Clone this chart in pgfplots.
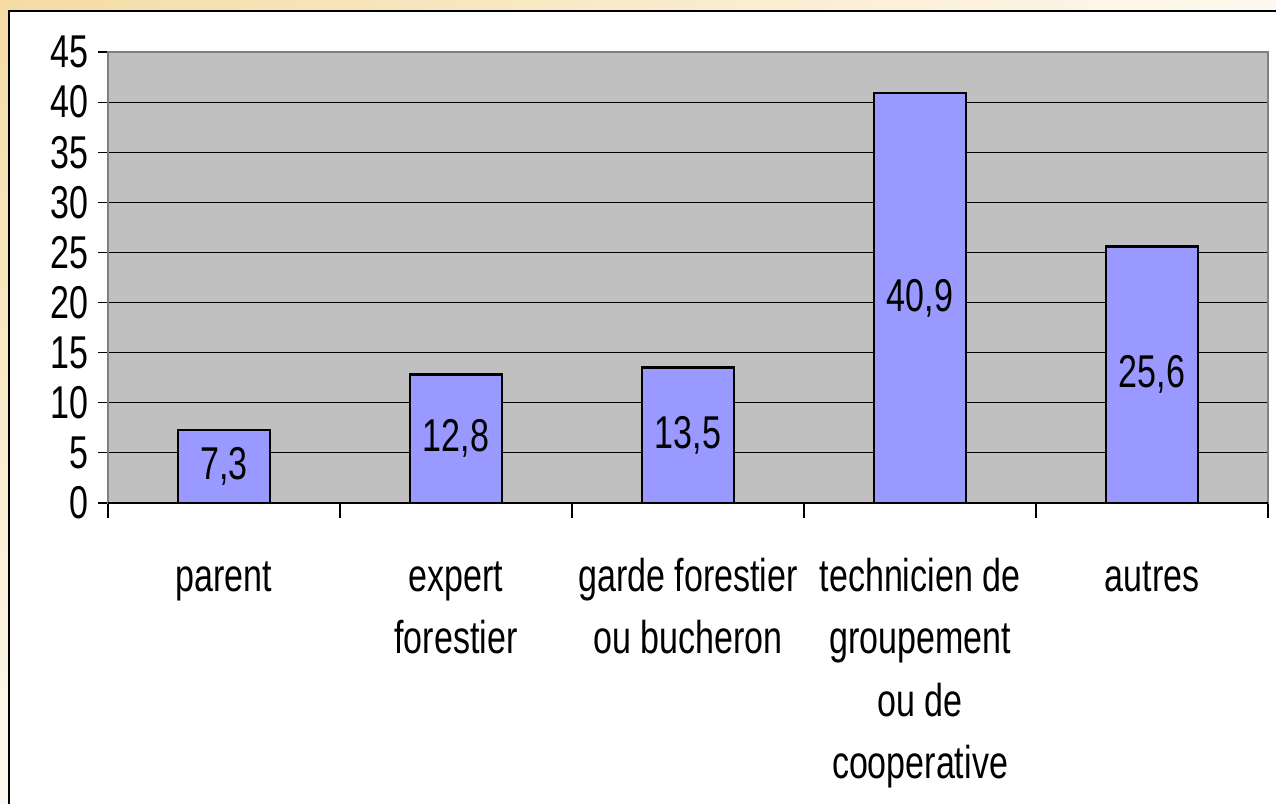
\documentclass[border=0pt]{standalone}
\usepackage{fontspec}
\setmainfont[FakeStretch=0.74]{Liberation Sans}
\usepackage{pgfplots}
\pgfplotsset{compat=1.18}
\definecolor{barblue}{HTML}{9999FF}
\definecolor{plotgray}{HTML}{C0C0C0}
\definecolor{framegray}{HTML}{808080}
\definecolor{bgorange}{HTML}{F4DCA4}
\definecolor{bglight}{HTML}{FEF9F0}
\begin{document}
\begin{tikzpicture}
\useasboundingbox (0,0) rectangle (638pt,402pt);
\fill[left color=bgorange, right color=bglight] (0,396.5pt) rectangle (638pt,402pt);
\fill[top color=bgorange, bottom color=bglight] (0,0) rectangle (4.5pt,402pt);
\fill[white] (4.5pt,0) rectangle (638pt,396.5pt);
\draw[black, line width=1.2pt] (4.5pt,-5pt) -- (4.5pt,396.5pt) -- (645pt,396.5pt);
\begin{axis}[
  at={(54pt,150.5pt)}, anchor=south west,
  scale only axis, width=580pt, height=225.5pt,
  xmin=-0.5, xmax=4.5, ymin=0, ymax=45,
  ytick={0,5,...,45},
  xtick={-0.5,0.5,1.5,2.5,3.5,4.5},
  x tick label as interval=true,
  xticklabels={{\strut parent},{\strut expert\\forestier},{\strut garde forestier\\ou bucheron},{\strut technicien de\\groupement\\ou de\\cooperative},{\strut autres}},
  tick align=outside, tick pos=left,
  major tick length=5pt,
  xtick style={/pgfplots/major tick length=7.5pt},
  tick style={black, line width=0.6pt},
  axis background/.style={fill=plotgray},
  axis line style={framegray, line width=1.2pt},
  ymajorgrids, major grid style={black, line width=0.6pt},
  /pgf/number format/assume math mode=true,
  ticklabel style={font=\fontsize{23}{31.2}\selectfont},
  xticklabel style={align=center, yshift=-13.9pt},
  yticklabel style={xshift=-1.3pt},
  after end axis/.code={\draw[black, line width=0.8pt] (rel axis cs:0,0) -- (rel axis cs:1,0);},
]
\addplot[ybar, bar width=46pt, fill=barblue, draw=black, line width=1.3pt]
  coordinates {(0,7.3) (1,12.8) (2,13.5) (3,40.9) (4,25.6)};
\addplot[draw=none, mark=none, nodes near coords, point meta=explicit symbolic,
  nodes near coords style={anchor=center, font=\fontsize{23}{31}\selectfont}]
  coordinates {(0,3.65) [7,3] (1,6.4) [12,8] (2,6.75) [13,5] (3,20.45) [40,9] (4,12.8) [25,6]};
\end{axis}
\end{tikzpicture}
\end{document}
